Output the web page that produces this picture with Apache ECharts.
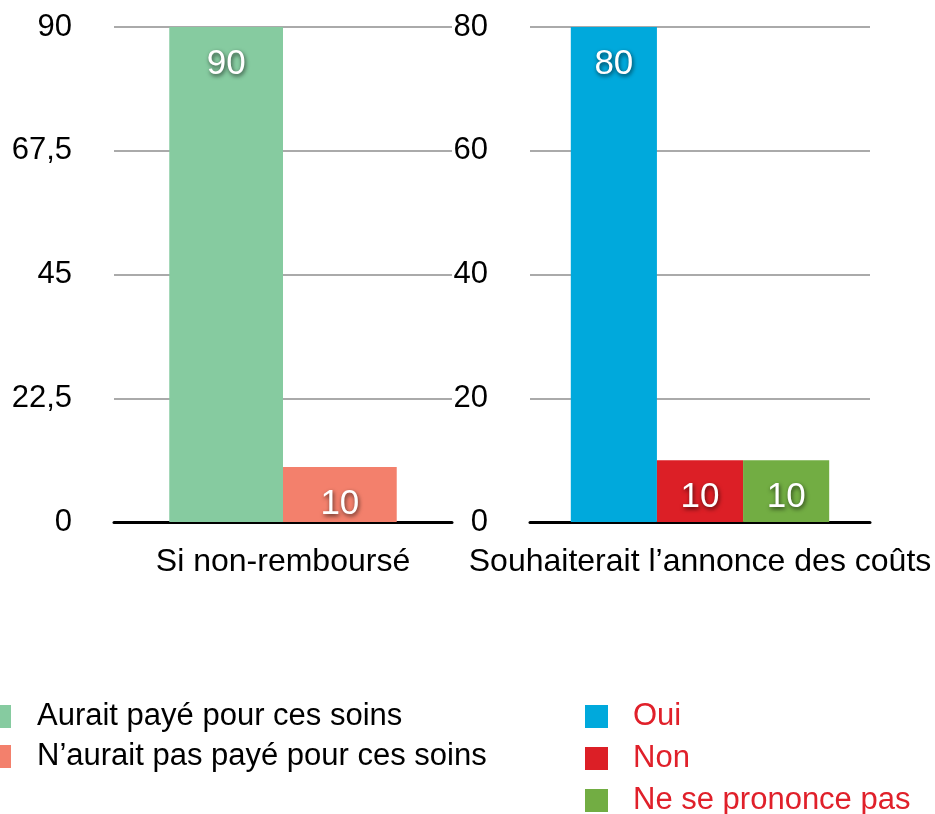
<!DOCTYPE html>
<html>
<head>
<meta charset="utf-8">
<script src="https://cdn.jsdelivr.net/npm/echarts@6/dist/echarts.min.js"></script>
<style>
  html, body { margin: 0; padding: 0; background: #fff; }
  #main { width: 935px; height: 814px; }
</style>
</head>
<body>
<div id="main"></div>
<script>
// data
var leftCategory = ['Si non-remboursé'];
var rightCategory = ['Souhaiterait l’annonce des coûts'];
var leftTicks = [0, 22.5, 45, 67.5, 90];
var rightTicks = [0, 20, 40, 60, 80];

var auraitPaye = [90];
var nauraitPasPaye = [10];
var oui = [80];
var non = [10];
var nspp = [10];

var font = 'Liberation Sans, Arial, Helvetica, sans-serif';

var myChart = echarts.init(document.getElementById('main'));

var barLabel = {
  show: true,
  position: 'insideTop',
  distance: 20,
  color: '#fff',
  fontSize: 35,
  fontFamily: font,
  textShadowColor: 'rgba(0,0,0,0.65)',
  textShadowBlur: 4,
  textShadowOffsetX: 1,
  textShadowOffsetY: 2
};

function yAxisFor(gridIndex, ticks) {
  return {
    type: 'value',
    gridIndex: gridIndex,
    min: ticks[0],
    max: ticks[ticks.length - 1],
    interval: ticks[1] - ticks[0],
    axisLine: { show: false },
    axisTick: { show: false },
    axisLabel: {
      margin: 42,
      color: '#000',
      fontSize: 31,
      fontFamily: font,
      formatter: function (v) { return String(v).replace('.', ','); }
    },
    splitLine: { lineStyle: { color: '#aaa', width: 2 } }
  };
}

function xAxisFor(gridIndex, cats) {
  return {
    type: 'category',
    gridIndex: gridIndex,
    data: cats,
    axisTick: { show: false },
    axisLine: { lineStyle: { color: '#000', width: 3 } },
    axisLabel: {
      margin: 24,
      color: '#000',
      fontSize: 32,
      fontFamily: font
    }
  };
}

myChart.setOption({
  animation: false,
  grid: [
    { left: 114, right: 483, top: 27, bottom: 292 },
    { left: 530, right: 65, top: 27, bottom: 292 }
  ],
  xAxis: [xAxisFor(0, leftCategory), xAxisFor(1, rightCategory)],
  yAxis: [yAxisFor(0, leftTicks), yAxisFor(1, rightTicks)],
  legend: [{
    data: ['Aurait payé pour ces soins', 'N’aurait pas payé pour ces soins'],
    orient: 'vertical',
    left: -17,
    top: 696,
    height: 200,
    icon: 'rect',
    itemWidth: 23,
    itemHeight: 23,
    itemGap: 9,
    textStyle: { color: '#000', fontSize: 31, fontFamily: font, padding: [0, 0, 0, 21] }
  }, {
    data: ['Oui', 'Non', 'Ne se prononce pas'],
    orient: 'vertical',
    left: 580,
    top: 696,
    height: 200,
    icon: 'rect',
    itemWidth: 23,
    itemHeight: 23,
    itemGap: 11,
    textStyle: { color: '#e0202a', fontSize: 31, fontFamily: font, padding: [0, 0, 0, 20] }
  }],
  series: [
    {
      name: 'Aurait payé pour ces soins', type: 'bar',
      xAxisIndex: 0, yAxisIndex: 0,
      data: auraitPaye, color: '#86cba0',
      barGap: 0, barCategoryGap: '32.7%',
      label: barLabel
    }, {
      name: 'N’aurait pas payé pour ces soins', type: 'bar',
      xAxisIndex: 0, yAxisIndex: 0,
      data: nauraitPasPaye, color: '#f3806c',
      barGap: 0, barCategoryGap: '32.7%',
      label: barLabel
    }, {
      name: 'Oui', type: 'bar',
      xAxisIndex: 1, yAxisIndex: 1,
      data: oui, color: '#00a9dc',
      barGap: 0, barCategoryGap: '24%',
      label: barLabel
    }, {
      name: 'Non', type: 'bar',
      xAxisIndex: 1, yAxisIndex: 1,
      data: non, color: '#dc1f26',
      barGap: 0, barCategoryGap: '24%',
      label: barLabel
    }, {
      name: 'Ne se prononce pas', type: 'bar',
      xAxisIndex: 1, yAxisIndex: 1,
      data: nspp, color: '#72ad43',
      barGap: 0, barCategoryGap: '24%',
      label: barLabel
    }
  ]
});
</script>
</body>
</html>
